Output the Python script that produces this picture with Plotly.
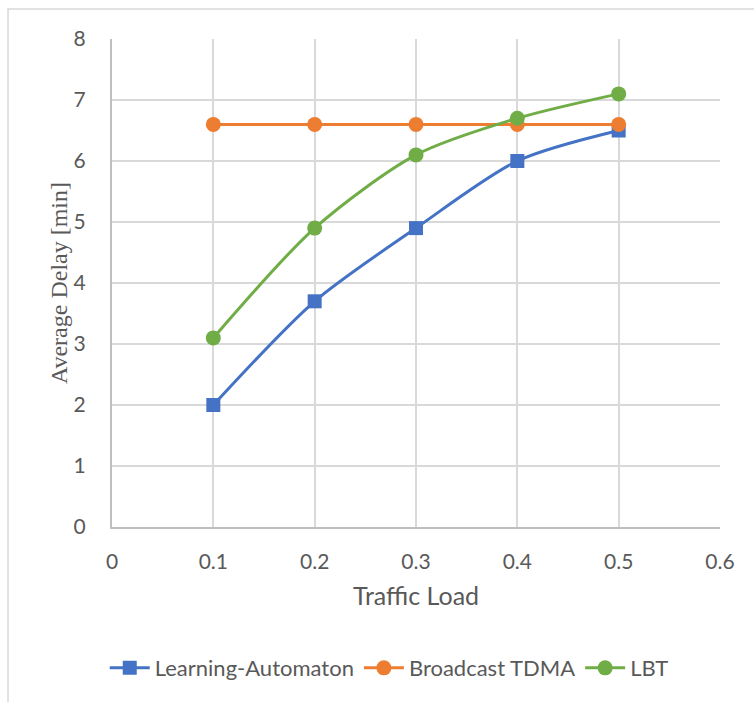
import plotly.graph_objects as go

# Traffic load vs. average delay for three MAC schemes
traffic_load = [0.1, 0.2, 0.3, 0.4, 0.5]
learning_automaton = [2.0, 3.7, 4.9, 6.0, 6.5]
broadcast_tdma = [6.6, 6.6, 6.6, 6.6, 6.6]
lbt = [3.1, 4.9, 6.1, 6.7, 7.1]

series = [
    ("Learning-Automaton", learning_automaton, "#4472C4", "square"),
    ("Broadcast TDMA", broadcast_tdma, "#ED7D31", "circle"),
    ("LBT", lbt, "#70AD47", "circle"),
]

fig = go.Figure()
for name, values, color, symbol in series:
    fig.add_trace(go.Scatter(
        x=traffic_load, y=values, name=name, mode="lines+markers",
        line=dict(color=color, width=3, shape="spline", smoothing=0.8),
        marker=dict(color=color, size=15 if symbol == "circle" else 14, symbol=symbol),
    ))

sans = "Lato, 'Liberation Sans', sans-serif"
tick_font = dict(family=sans, size=21, color="#595959")

fig.update_layout(
    width=754, height=702,
    margin=dict(l=112, r=34, t=39, b=175),
    paper_bgcolor="white", plot_bgcolor="white",
    showlegend=True,
    legend=dict(
        orientation="h", x=0.456, xanchor="center", y=-0.289, yanchor="middle",
        font=dict(family=sans, size=22, color="#595959"),
        itemwidth=40, tracegroupgap=0,
    ),
    xaxis=dict(
        range=[0, 0.6], dtick=0.1, tick0=0, showgrid=True, gridcolor="#D9D9D9", gridwidth=1.5,
        showline=True, linecolor="#BFBFBF", linewidth=2, zeroline=False,
        tickfont=tick_font, ticklabelstandoff=15,
        title=dict(text="Traffic Load", font=dict(family=sans, size=25, color="#595959"), standoff=15),
    ),
    yaxis=dict(
        range=[0, 8], dtick=1, tick0=0, showgrid=True, gridcolor="#D9D9D9", gridwidth=1.5,
        showline=True, linecolor="#BFBFBF", linewidth=2, zeroline=False,
        tickfont=tick_font, ticklabelstandoff=20,
    ),
    # Y-axis title placed close to the tick labels
    annotations=[dict(
        text="Average Delay [min]", textangle=-90, showarrow=False,
        xref="paper", yref="paper", x=-0.087, y=0.5, xanchor="center", yanchor="middle",
        font=dict(family="'Liberation Serif', 'Times New Roman', serif", size=24, color="#595959"),
    )],
    shapes=[dict(
        type="rect", xref="paper", yref="paper",
        x0=-0.171, x1=1.07, y0=-0.38, y1=1.0615,
        line=dict(color="#D9D9D9", width=1.5), fillcolor="rgba(0,0,0,0)", layer="below",
    )],
)

fig.write_html("out.html")
